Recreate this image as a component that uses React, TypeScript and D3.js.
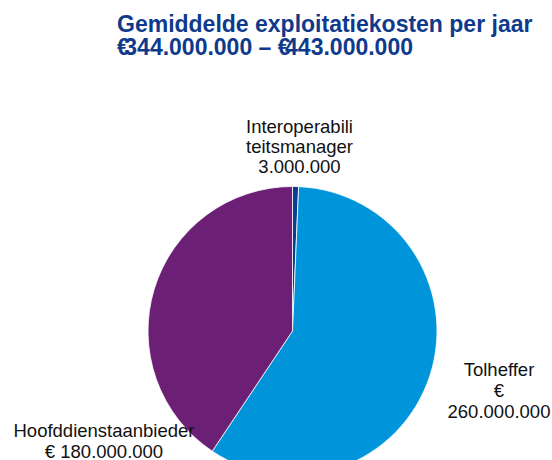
import React, { useRef, useEffect } from 'react';
import { select, pie, arc } from "d3";

const labels = ["Interoperabiliteitsmanager", "Tolheffer", "Hoofddienstaanbieder"];
const values = [3000000, 260000000, 180000000];
const labelLines = [
  ["Interoperabili", "teitsmanager", "3.000.000"],
  ["Tolheffer", "€", "260.000.000"],
  ["Hoofddienstaanbieder", "€ 180.000.000"],
];
const colors = ["#0a3d8f", "#0095da", "#6b1f75"];
const titleLine1 = "Gemiddelde exploitatiekosten per jaar";
const titleRange = ["344.000.000", "443.000.000"];

function App() {
  const rootRef = useRef<SVGSVGElement>(null);
  const width = 552;
  const height = 460;

  useEffect(() => {
    const root = select(rootRef.current);
    root.selectAll("*").remove();

    const cx = 292.5, cy = 331, r = 144.5;
    const font = "'Liberation Sans', Arial, sans-serif";

    const title = root.append("g")
      .attr("fill", "#0f3a8c")
      .attr("font-family", font)
      .attr("font-weight", "bold")
      .attr("font-size", 23);
    title.append("text").attr("x", 117).attr("y", 32).text(titleLine1);
    const t2 = title.append("text").attr("x", 117).attr("y", 55);
    t2.append("tspan").text("€");
    t2.append("tspan").attr("dx", -5.5).text(titleRange[0] + " – €");
    t2.append("tspan").attr("dx", -5.5).text(titleRange[1]);

    const slices = pie<number>().sort(null)(values);
    const arcGen = arc<any>().innerRadius(0).outerRadius(r);

    root.append("g")
      .attr("transform", `translate(${cx},${cy})`)
      .selectAll("path")
      .data(slices)
      .join("path")
      .attr("d", arcGen)
      .attr("fill", (d, i) => colors[i])
      .attr("stroke", "#fff")
      .attr("stroke-width", 0.8);

    // label anchors (centre x, first baseline, line step)
    const anchors = [[299.5, 133, 20], [499, 376, 21], [104, 437, 21]];
    labelLines.forEach((lines, i) => {
      root.append("text")
        .attr("aria-label", labels[i])
        .attr("text-anchor", "middle")
        .attr("font-family", font)
        .attr("font-size", 18.5)
        .attr("fill", "#111")
        .selectAll("tspan")
        .data(lines)
        .join("tspan")
        .attr("x", anchors[i][0])
        .attr("y", (d, j) => anchors[i][1] + j * anchors[i][2])
        .text(d => d);
    });
  }, []);

  return (
    <svg ref={rootRef} width={width} height={height}
      style={{ position: 'absolute', left: 0, top: 0, background: '#fff' }}></svg>
  );
}

export default App;
